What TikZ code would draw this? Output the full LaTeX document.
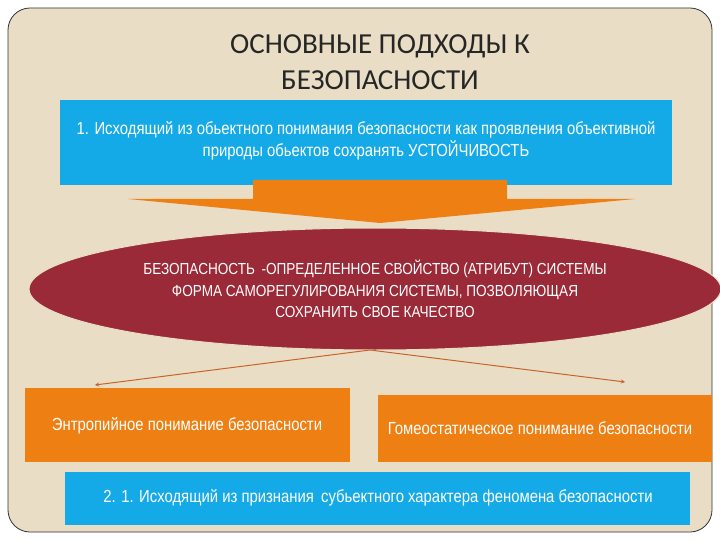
\documentclass[tikz,border=0pt]{standalone}
\usepackage{fontspec}
\setmainfont{Liberation Sans}
\newfontfamily\narrow[FakeStretch=0.85]{Liberation Sans}
\newfontfamily\titlefont{Carlito}
\usetikzlibrary{shapes.geometric,arrows.meta}
\definecolor{bg}{HTML}{E9DDC5}
\definecolor{sky}{HTML}{14AAE8}
\definecolor{org}{HTML}{EE7F12}
\definecolor{wine}{HTML}{9B2A38}
\definecolor{line}{HTML}{C8642A}
\tikzset{
 box/.style={draw=none,inner sep=0pt,anchor=north west},
 txt/.style={text=white,font=\narrow\fontsize{17.5}{22}\selectfont,align=center},
 conn/.style={draw=line,line width=1pt,-{Stealth[length=4pt,width=4pt]}}
}
\begin{document}
\begin{tikzpicture}[x=1pt,y=-1pt]
\useasboundingbox (0,0) rectangle (720,540);
\fill[white] (0,0) rectangle (720,540);
\draw[fill=bg,draw=black!80,line width=0.8pt,rounded corners=22pt] (8,8) rectangle (712,532);
\node[font=\titlefont\fontsize{29}{36}\selectfont,text=black!85,align=center] (title) at (380,62) {ОСНОВНЫЕ ПОДХОДЫ К\\БЕЗОПАСНОСТИ};
\node[box,fill=sky,minimum width=612pt,minimum height=85pt] (b1) at (60,100) {};
\node[txt] (t1) at (366,141) {1. Исходящий из обьектного понимания безопасности как проявления объективной\\природы обьектов сохранять УСТОЙЧИВОСТЬ};
\fill[org] (253,180) -- (507,180) -- (507,199) -- (635,199) -- (380,223) -- (128,199) -- (253,199) -- cycle;
\node[ellipse,fill=wine,draw=bg,line width=1pt,minimum width=692pt,minimum height=122pt] (el) at (375,289) {};
\node[txt,font=\narrow\fontsize{16}{21.5}\selectfont] (te) at (375,289) {БЕЗОПАСНОСТЬ \,-ОПРЕДЕЛЕННОЕ СВОЙСТВО (АТРИБУТ) СИСТЕМЫ\\ФОРМА САМОРЕГУЛИРОВАНИЯ СИСТЕМЫ, ПОЗВОЛЯЮЩАЯ\\СОХРАНИТЬ СВОЕ КАЧЕСТВО};
\coordinate (src) at (370,350);
\node[box,fill=org,minimum width=325pt,minimum height=74pt] (l) at (25,388) {};
\node[box,fill=org,minimum width=334pt,minimum height=67pt] (r) at (378,395) {};
\coordinate (la) at (95,385);
\coordinate (ra) at (625,382);
\draw[conn] (src) -- (la);
\draw[conn] (src) -- (ra);
\node[txt] (lt) at (187,426) {Энтропийное понимание безопасности};
\node[txt] (rt) at (540,428) {Гомеостатическое понимание безопасности};
\node[box,fill=sky,minimum width=625pt,minimum height=53pt] (b2) at (65,472) {};
\node[txt] (t2) at (378,498) {2. 1. Исходящий из признания \,субьектного характера феномена безопасности};
\end{tikzpicture}
\end{document}
